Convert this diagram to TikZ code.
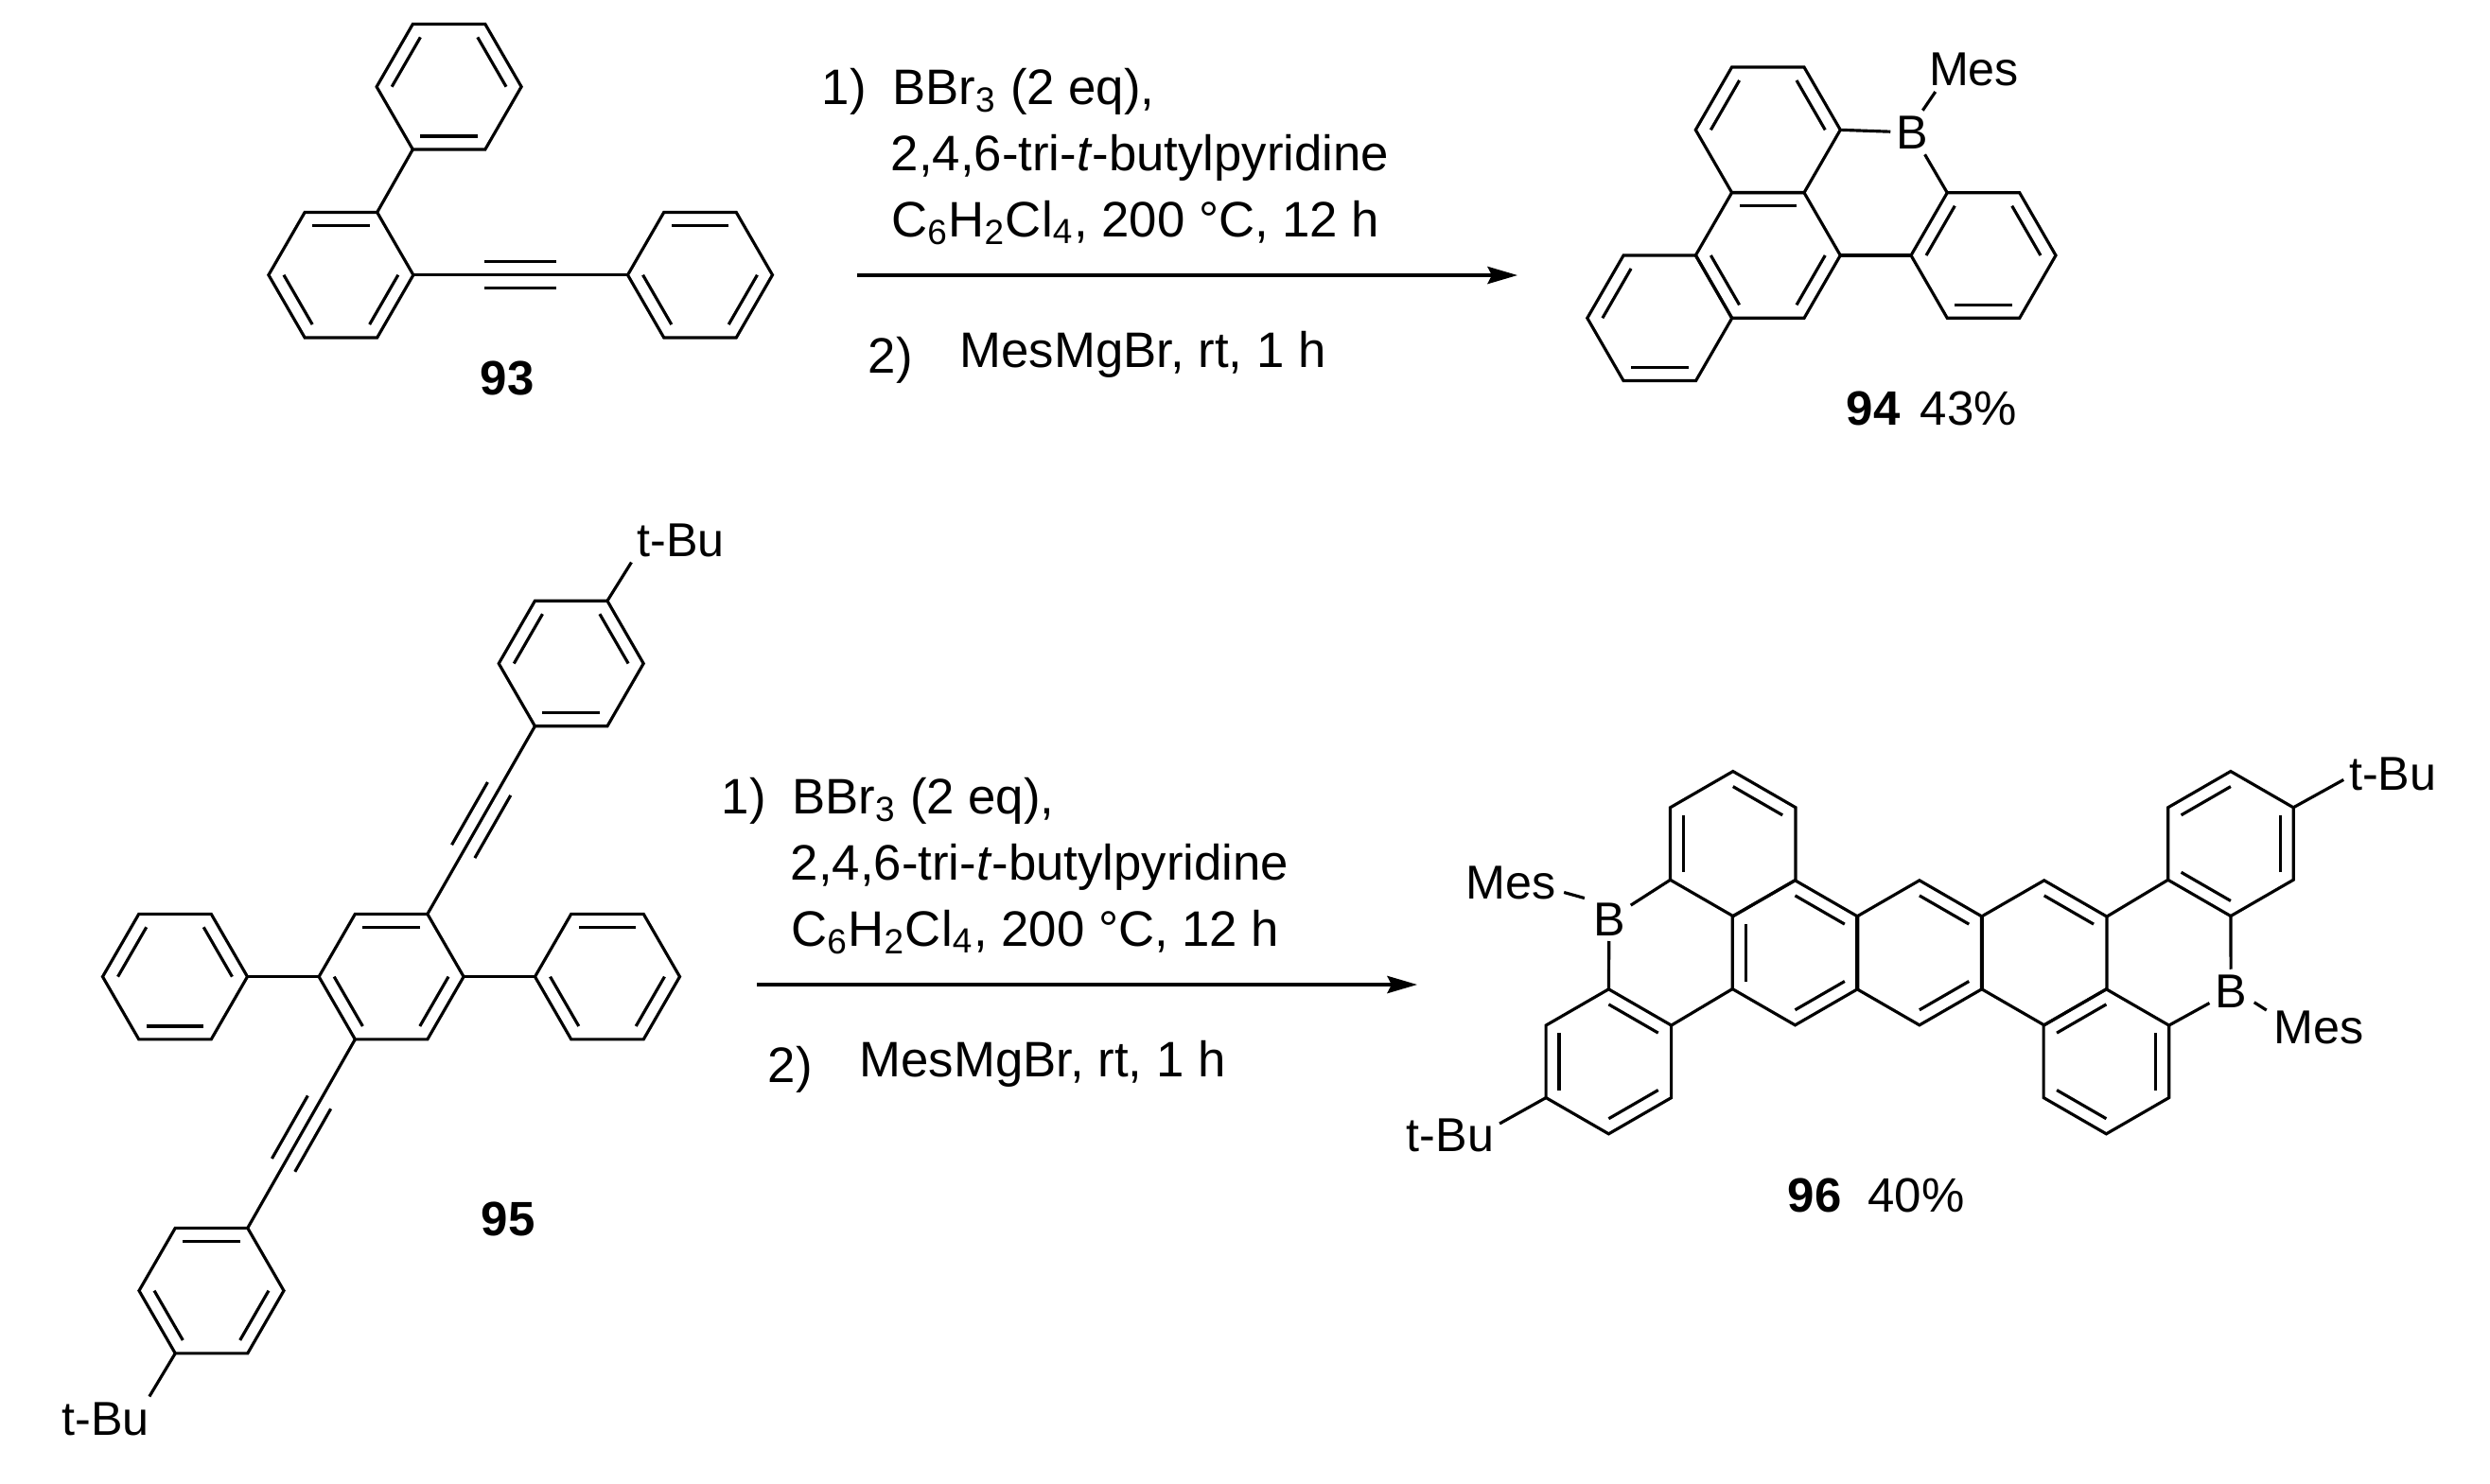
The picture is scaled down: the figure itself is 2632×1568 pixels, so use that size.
\documentclass[tikz,border=0pt]{standalone}
\usepackage{fontspec}
\setmainfont{Liberation Sans}
\usetikzlibrary{calc, arrows.meta}
\tikzset{
    bond/.style={line width=0.9pt, line join=miter},
    rxnarrow/.style={line width=0.9pt, -{Stealth[length=9pt, width=5.2pt, inset=1.3pt]}},
    atom/.style={inner sep=1.5pt, font=\fontsize{14.3}{16}\selectfont},
    cmpd/.style={inner sep=0pt, anchor=base west, font=\fontsize{14.5}{16}\selectfont},
    cond/.style={inner sep=0pt, anchor=base west, font=\fontsize{15}{17}\selectfont},
}
\newcommand{\benzring}[5]{
    \coordinate (#1) at (#2, #3);
    \foreach \i in {0, ..., 5} {
        \coordinate (#1-\i) at ($(#1) + ({#4+60*\i}:76.5)$);
    }
    \draw[bond] (#1-0) -- (#1-1) -- (#1-2) -- (#1-3) -- (#1-4) -- (#1-5) -- cycle;
    \foreach \e in {#5} {
        \pgfmathtruncatemacro{\nx}{mod(\e+1, 6)}
        \draw[bond] ($(#1)!0.79!(#1-\e)$) -- ($(#1)!0.79!(#1-\nx)$);
    }
}
\newcommand{\yne}[2]{
    \draw[bond] (#1) -- (#2);
    \coordinate (ynea) at ($(#1)!0.3333!(#2)$);
    \coordinate (yneb) at ($(#1)!0.6667!(#2)$);
    \draw[bond] ($(ynea)!0.14cm!90:(yneb)$) -- ($(yneb)!0.14cm!-90:(ynea)$);
    \draw[bond] ($(ynea)!0.14cm!-90:(yneb)$) -- ($(yneb)!0.14cm!90:(ynea)$);
}
\begin{document}
\begin{tikzpicture}[x=0.01cm, y=0.01cm]
    \useasboundingbox (0, 0) rectangle (2632, -1568);

    \foreach \n/\dx/\dy in {top/106/0, bot/0/-750} {
        \begin{scope}[shift={(\dx, \dy)}]
            \node[cond] (\n one) at (762, -110) {1)};
            \node[cond] (\n bbr) at (836.5, -110) {BBr\textsubscript{3} (2 eq),};
            \node[cond] (\n base) at (835, -180) {2,4,6-tri-\textit{t}-butylpyridine};
            \node[cond] (\n solv) at (835.5, -250) {C\textsubscript{6}H\textsubscript{2}Cl\textsubscript{4}, 200 °C, 12 h};
            \node[cond] (\n two) at (811, -394.5) {2)};
            \node[cond] (\n mes) at (908, -388.5) {MesMgBr, rt, 1 h};
            \coordinate (\n start) at (800.4, -291);
            \coordinate (\n end) at (1498, -291);
            \draw[rxnarrow] (\n start) -- (\n end);
        \end{scope}
    }

    \benzring{pa}{474.6}{-91.7}{0}{0, 2, 4}
    \benzring{pb}{360.4}{-290.7}{0}{1, 3, 5}
    \benzring{pc}{740}{-290.7}{0}{1, 3, 5}
    \draw[bond] (pa-4) -- (pb-1);
    \yne{pb-0}{pc-3}
    \node[cmpd] (lab93) at (507, -417) {\textbf{93}};

    \benzring{qa}{1868.8}{-137.3}{0}{0, 2}
    \benzring{qb}{1868.8}{-270}{0}{1, 3, 5}
    \benzring{qc}{1754.3}{-336.3}{0}{2, 4}
    \benzring{qd}{2096.5}{-270}{0}{0, 2, 4}
    \node[atom] (qboron) at (2021, -140) {B};
    \node[atom] (qmes) at (2086.5, -73.5) {Mes};
    \draw[bond] (qb-0) -- (qd-3);
    \draw[bond] (qa-0) -- (qboron);
    \draw[bond] (qd-2) -- (qboron);
    \draw[bond] (qboron.64) -- (qmes.210);
    \node[cmpd] (lab94) at (1951, -449) {\textbf{94}\hspace*{0.42em}43\%};

    \benzring{ra}{603.7}{-701.5}{0}{0, 2, 4}
    \benzring{rb}{413.6}{-1032.6}{0}{1, 3, 5}
    \benzring{rc}{185}{-1032.6}{0}{0, 2, 4}
    \benzring{rd}{642}{-1032.6}{0}{1, 3, 5}
    \benzring{re}{223.5}{-1364.6}{0}{1, 3, 5}
    \draw[bond] (rc-0) -- (rb-3);
    \draw[bond] (rb-0) -- (rd-3);
    \yne{rb-1}{ra-4}
    \yne{rb-4}{re-1}
    \node[atom] (rbuta) at (719.5, -571) {t-Bu};
    \node[atom] (rbutb) at (111.7, -1500) {t-Bu};
    \draw[bond] (ra-1) -- (rbuta.south west);
    \draw[bond] (re-4) -- (rbutb.27);
    \node[cmpd] (lab95) at (508, -1306) {\textbf{95}};

    \benzring{sa}{1831.8}{-892}{30}{0, 2}
    \benzring{sb}{1897.5}{-1007.3}{30}{0, 2, 4}
    \benzring{sc}{1700.4}{-1122.3}{30}{0, 2, 4}
    \benzring{sd}{2028.9}{-1007.3}{30}{0, 4}
    \benzring{se}{2160.7}{-1007.3}{30}{0}
    \benzring{sf}{2226.4}{-1122.3}{30}{1, 3, 5}
    \benzring{sg}{2357.9}{-892}{30}{1, 3, 5}
    \draw[bond] (sb-3) -- (sc-0);
    \draw[bond] (se-0) -- (sg-3);
    \node[atom] (sborona) at (1701, -971.7) {B};
    \node[atom] (smesa) at (1597, -933.3) {Mes};
    \node[atom] (sborobb) at (2358.2, -1048) {B};
    \node[atom] (smesb) at (2451, -1086.5) {Mes};
    \node[atom] (sbuta) at (1533, -1200) {t-Bu};
    \node[atom] (sbutb) at (2529.3, -818) {t-Bu};
    \draw[bond] (sa-3) -- (sborona);
    \draw[bond] (sc-1) -- (sborona);
    \draw[bond, shorten <=0.8pt, shorten >=1pt] (smesa.-10) -- (sborona.137);
    \draw[bond] (sg-4) -- (sborobb);
    \draw[bond] (sf-0) -- (sborobb);
    \draw[bond, shorten <=0.6pt, shorten >=0.6pt] (sborobb.-25) -- (smesb.162);
    \draw[bond] (sc-3) -- (sbuta.13);
    \draw[bond] (sg-0) -- (sbutb.187);
    \node[cmpd] (lab96) at (1889, -1281) {\textbf{96}\hspace*{0.55em}40\%};
\end{tikzpicture}
\end{document}
